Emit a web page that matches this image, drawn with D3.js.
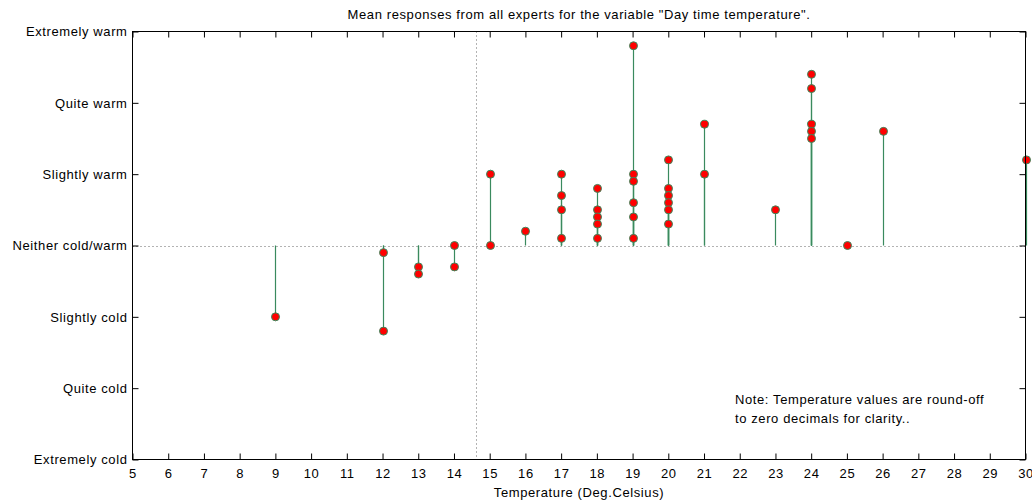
<!DOCTYPE html>
<html>
<head>
<meta charset="utf-8">
<script src="https://cdn.jsdelivr.net/npm/d3@7"></script>
<style>
body { margin:0; background:#fff; }
text { font-family: Arial, "Liberation Sans", sans-serif; letter-spacing: 0.6px; }
</style>
</head>
<body>
<div id="chart"></div>
<script>
// temperature (deg C) of each response, rounded to zero decimals
var aTemps = [9, 12,12, 13,13, 14,14, 15,15, 16,
	17,17,17,17, 18,18,18,18,18, 19,19,19,19,19,19,
	20,20,20,20,20,20, 21,21, 23, 24,24,24,24,24, 25, 26, 30];
// mean response for each entry above (-3 extremely cold .. 3 extremely warm)
var aMeans = [-1.0, -0.1,-1.2, -0.3,-0.4, 0,-0.3, 1.0,0, 0.2,
	1.0,0.7,0.5,0.1, 0.8,0.5,0.4,0.3,0.1, 2.8,1.0,0.9,0.6,0.4,0.1,
	1.2,0.8,0.7,0.6,0.5,0.3, 1.7,1.0, 0.5, 2.4,2.2,1.7,1.6,1.5, 0, 1.6, 1.2];
var aXTicks = d3.range(5, 31);
var aYLabels = ["Extremely cold","Quite cold","Slightly cold","Neither cold/warm","Slightly warm","Quite warm","Extremely warm"];
var aYValues = [-3,-2,-1,0,1,2,3];
var fMarkerTemp = 14.62;

var iWidth = 1032, iHeight = 502;
var iLeft = 132.5, iRight = 1025.5, iTop = 31.5, iBottom = 459.5;

var d3Canvas = d3.select("#chart").append("svg")
	.attr("width", iWidth)
	.attr("height", iHeight);

var xAxes = d3.scaleLinear().domain([5, 30]).range([iLeft, iRight]);
var yAxes = d3.scaleLinear().domain([-3, 3]).range([iBottom, iTop]);

var myData = aTemps.map(function(t, i) { return {t: t, v: aMeans[i]}; });

// zero line and reference temperature line
d3Canvas.append("line")
	.attr("x1", iLeft).attr("x2", iRight)
	.attr("y1", Math.round(yAxes(0)) + 0.5).attr("y2", Math.round(yAxes(0)) + 0.5)
	.attr("stroke", "#666").attr("stroke-dasharray", "1,3");
d3Canvas.append("line")
	.attr("x1", Math.round(xAxes(fMarkerTemp)) + 0.5).attr("x2", Math.round(xAxes(fMarkerTemp)) + 0.5)
	.attr("y1", iTop).attr("y2", iBottom)
	.attr("stroke", "#666").attr("stroke-dasharray", "1,3");

// stems
d3Canvas.selectAll(".stem").data(myData).enter().append("line")
	.attr("class", "stem")
	.attr("x1", function(d) { return Math.round(xAxes(d.t)) + 0.5; })
	.attr("x2", function(d) { return Math.round(xAxes(d.t)) + 0.5; })
	.attr("y1", yAxes(0))
	.attr("y2", function(d) { return yAxes(d.v); })
	.attr("stroke", "#3a8a5e").attr("stroke-width", 1.2);

// markers
d3Canvas.selectAll(".dot").data(myData).enter().append("circle")
	.attr("class", "dot")
	.attr("cx", function(d) { return Math.round(xAxes(d.t)) + 0.5; })
	.attr("cy", function(d) { return yAxes(d.v); })
	.attr("r", 4)
	.attr("fill", "#ff0000")
	.attr("stroke", "#3a8a5e").attr("stroke-width", 1);

// box
d3Canvas.append("rect")
	.attr("x", iLeft).attr("y", iTop)
	.attr("width", iRight - iLeft).attr("height", iBottom - iTop)
	.attr("fill", "none").attr("stroke", "#000");

// ticks
var xTop = d3.axisTop(xAxes).tickValues(aXTicks).tickSize(-6).tickFormat("");
var xBot = d3.axisBottom(xAxes).tickValues(aXTicks).tickSize(-6).tickPadding(9).tickFormat(d3.format("d"));
var yLeft = d3.axisLeft(yAxes).tickValues(aYValues).tickSize(-6).tickPadding(5)
	.tickFormat(function(d, i) { return aYLabels[i]; });
var yRight = d3.axisRight(yAxes).tickValues(aYValues).tickSize(-6).tickFormat("");

function styleAxis(g) {
	g.select(".domain").remove();
	g.selectAll(".tick line").attr("stroke", "#000");
	g.selectAll("text").attr("fill", "#000").style("font-size", "13px");
}
d3Canvas.append("g").attr("transform", "translate(0," + iTop + ")").call(xTop).call(styleAxis);
d3Canvas.append("g").attr("transform", "translate(0," + iBottom + ")").call(xBot).call(styleAxis);
d3Canvas.append("g").attr("transform", "translate(" + iLeft + ",0)").call(yLeft).call(styleAxis);
d3Canvas.append("g").attr("transform", "translate(" + iRight + ",0)").call(yRight).call(styleAxis);

// titles
d3Canvas.append("text")
	.attr("x", (iLeft + iRight) / 2).attr("y", 19)
	.attr("text-anchor", "middle").style("font-size", "13px")
	.text("Mean responses from all experts for the variable \"Day time temperature\".");
d3Canvas.append("text")
	.attr("x", (iLeft + iRight) / 2).attr("y", 497)
	.attr("text-anchor", "middle").style("font-size", "13px")
	.text("Temperature (Deg.Celsius)");
d3Canvas.append("text")
	.attr("x", 735).attr("y", 404).style("font-size", "13px")
	.text("Note: Temperature values are round-off");
d3Canvas.append("text")
	.attr("x", 735).attr("y", 423).style("font-size", "13px")
	.text("to zero decimals for clarity..");
</script>
</body>
</html>
